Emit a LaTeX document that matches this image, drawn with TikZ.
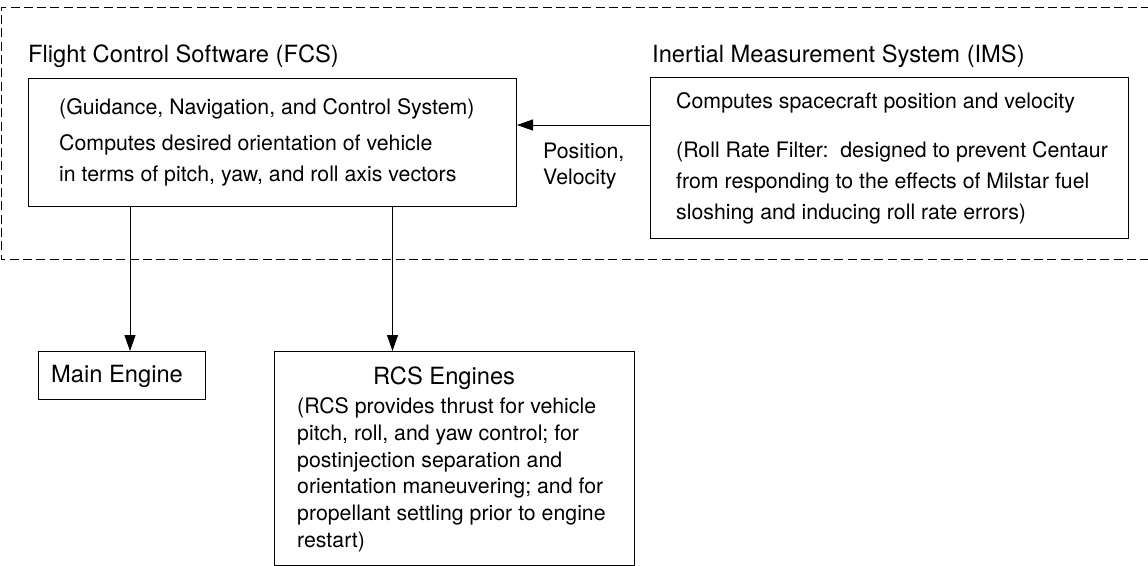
\documentclass[tikz,border=0pt]{standalone}
\usepackage{fontspec}
\setmainfont{TeX Gyre Heros}
\usetikzlibrary{arrows.meta}
\tikzset{
  boxnode/.style={draw, line width=1pt, rectangle, inner sep=0pt, anchor=north west},
  bodytxt/.style={inner sep=0pt, anchor=base west, font=\fontsize{21.3}{26}\selectfont},
  titletxt/.style={inner sep=0pt, anchor=base west, font=\fontsize{23.7}{28}\selectfont},
  arr/.style={line width=1pt, -{Triangle[length=16pt,width=11pt]}},
  groupline/.style={line width=1pt, dash pattern=on 9pt off 4.3pt}
}
\begin{document}
\begin{tikzpicture}[x=1pt,y=-1pt]
\useasboundingbox (0,0) rectangle (1148,565);
% dashed group
\coordinate (gtr) at (1150,7);
\coordinate (gtl) at (1,7);
\coordinate (gbl) at (1,259);
\coordinate (gbr) at (1150,259);
\draw[groupline] (gtr) -- (gtl) -- (gbl) -- (gbr);
% boxes
\node[boxnode, minimum width=488pt, minimum height=128pt] (fcs) at (28,78) {};
\node[boxnode, minimum width=478pt, minimum height=161pt] (ims) at (650,77) {};
\node[boxnode, minimum width=167pt, minimum height=48pt] (main) at (38,351) {};
\node[boxnode, minimum width=360pt, minimum height=214pt] (rcs) at (274,351) {};
% titles
\node[titletxt] (fcst) at (28,62) {Flight Control Software (FCS)};
\node[titletxt] (imst) at (652,62) {Inertial Measurement System (IMS)};
% FCS text
\node[bodytxt] (f1) at (59,114) {(Guidance, Navigation, and Control System)};
\node[bodytxt] (f2) at (59,150) {Computes desired orientation of vehicle};
\node[bodytxt] (f3) at (59,181) {in terms of pitch, yaw, and roll axis vectors};
% IMS text
\node[bodytxt] (i1) at (676,108) {Computes spacecraft position and velocity};
\node[bodytxt] (i2) at (676,157) {(Roll Rate Filter:\ \ designed to prevent Centaur};
\node[bodytxt] (i3) at (676,188) {from responding to the effects of Milstar fuel};
\node[bodytxt] (i4) at (676,219) {sloshing and inducing roll rate errors)};
% label
\node[bodytxt] (p1) at (543,158) {Position,};
\node[bodytxt] (p2) at (543,184) {Velocity};
% Main engine
\node[titletxt] (mt) at (51,382) {Main Engine};
% RCS
\node[titletxt] (rt) at (373,384) {RCS Engines};
\node[bodytxt] (r1) at (297,413) {(RCS provides thrust for vehicle};
\node[bodytxt] (r2) at (297,440) {pitch, roll, and yaw control; for};
\node[bodytxt] (r3) at (297,467) {postinjection separation and};
\node[bodytxt] (r4) at (297,493) {orientation maneuvering; and for};
\node[bodytxt] (r5) at (297,520) {propellant settling prior to engine};
\node[bodytxt] (r6) at (297,547) {restart)};
% connectors
\coordinate (ay) at (0,125);
\coordinate (mx) at (130,0);
\coordinate (rx) at (392.5,0);
\draw[arr] (ims.west |- ay) -- (fcs.east |- ay);
\draw[arr] (fcs.south -| mx) -- (main.north -| mx);
\draw[arr] (fcs.south -| rx) -- (rcs.north -| rx);
\end{tikzpicture}
\end{document}
